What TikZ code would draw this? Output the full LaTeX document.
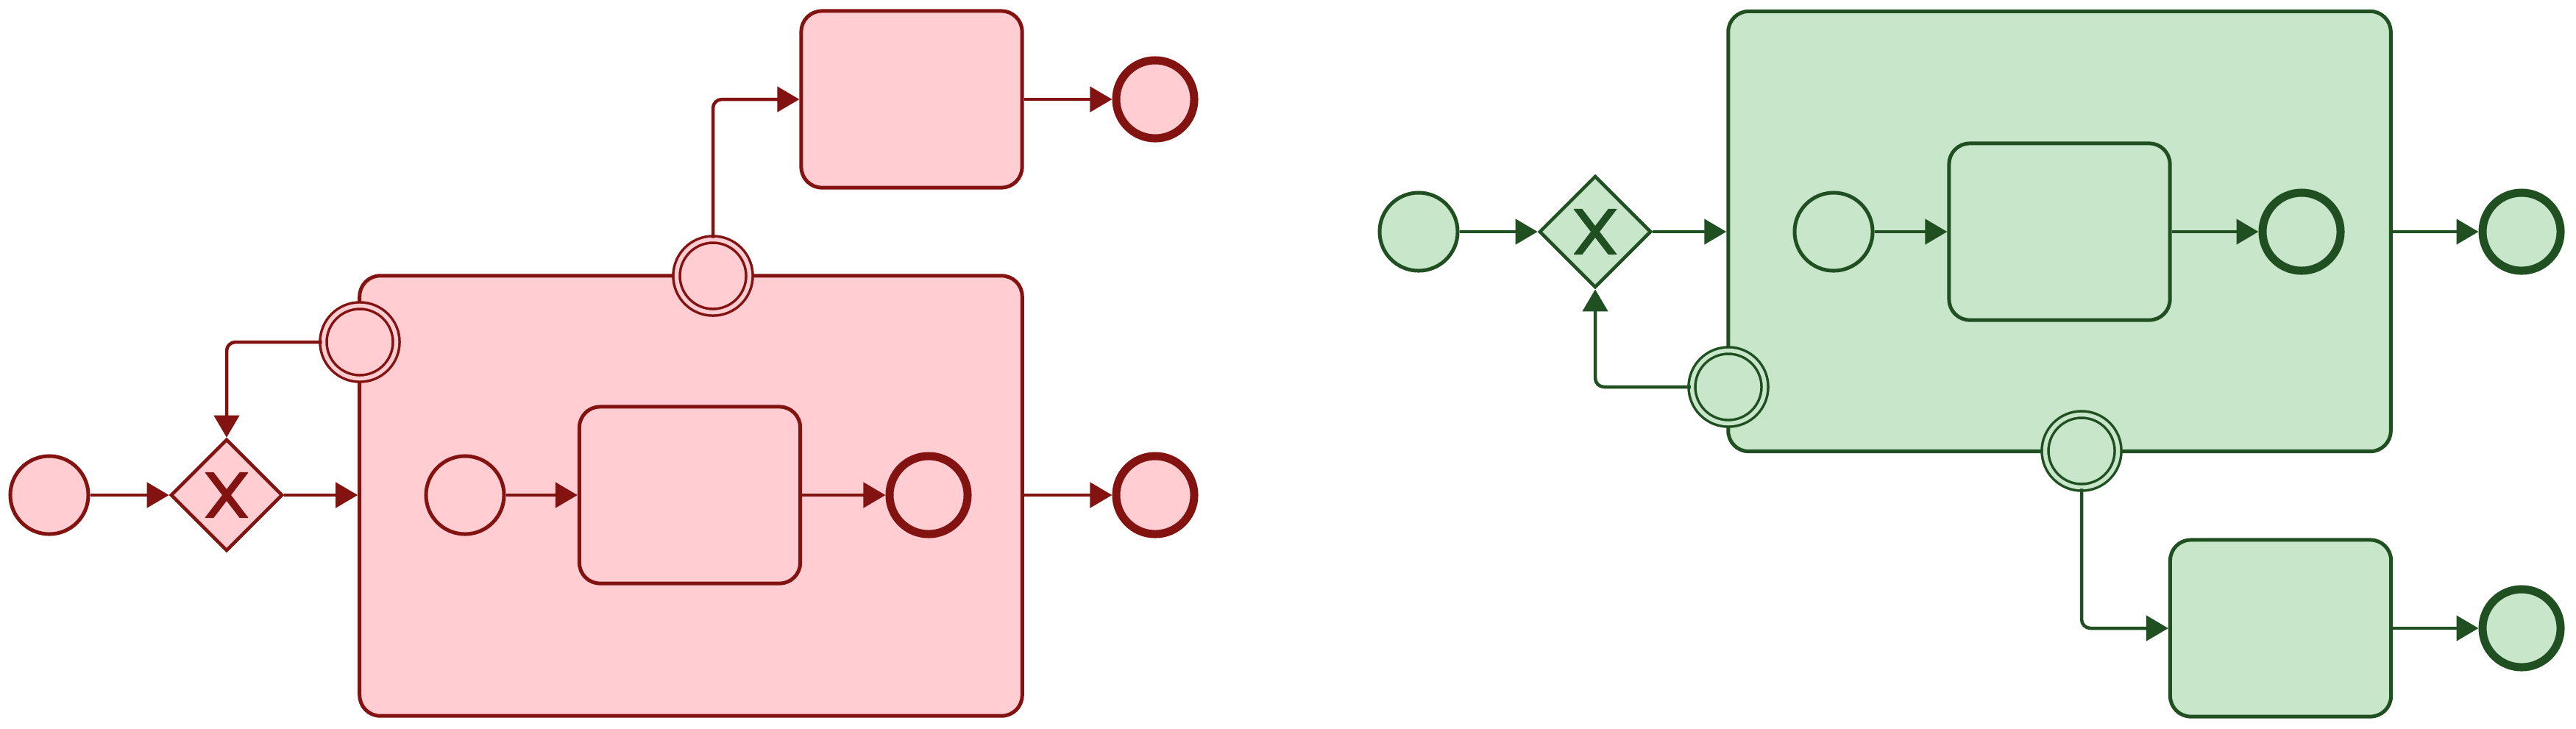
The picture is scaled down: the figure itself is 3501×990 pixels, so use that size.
\documentclass[tikz,border=0pt]{standalone}
\usetikzlibrary{arrows.meta,shapes.geometric}
\definecolor{rfill}{HTML}{FFCDD2}
\definecolor{rstroke}{HTML}{831311}
\definecolor{gfill}{HTML}{C8E6C9}
\definecolor{gstroke}{HTML}{205022}
\tikzset{
  rsty/.style={draw=rstroke, fill=rfill},
  gsty/.style={draw=gstroke, fill=gfill},
  evt/.style={circle, inner sep=0pt, line width=0.05cm, minimum size=1.06cm},
  endevt/.style={circle, inner sep=0pt, line width=0.11cm, minimum size=1.06cm},
  bevt/.style={circle, inner sep=0pt, line width=0.035cm, double distance=0.055cm, minimum size=0.99cm},
  rbevt/.style={bevt, draw=rstroke, double=rfill, fill=rfill},
  gbevt/.style={bevt, draw=gstroke, double=gfill, fill=gfill},
  taskbox/.style={rectangle, rounded corners=0.28cm, inner sep=0pt, line width=0.05cm, minimum width=3.0cm, minimum height=2.4cm},
  subbox/.style={rectangle, rounded corners=0.28cm, inner sep=0pt, line width=0.05cm, minimum width=9.0cm, minimum height=5.98cm},
  xgate/.style={diamond, inner sep=0pt, aspect=1, line width=0.045cm, minimum size=1.52cm,
    path picture={\filldraw[#1, line width=0.01cm, line join=round, shift={(path picture bounding box.center)}]
      (-28.8,-30.6) -- (-5.4,0) -- (-28.8,30.6) -- (-18,30.6) -- (0,7.1) -- (18,30.6) -- (28.8,30.6)
      -- (5.4,0) -- (28.8,-30.6) -- (18,-30.6) -- (0,-7.1) -- (-18,-30.6) -- cycle;}},
  flow/.style={line width=0.045cm, -{Triangle[length=0.3cm,width=0.34cm]}},
  elbow/.style={rounded corners=0.12cm}
}
\begin{document}
\begin{tikzpicture}[x=0.01cm, y=-0.01cm]
\useasboundingbox (0,0) rectangle (3501,990);
% ---------- red diagram ----------
\node[subbox, rsty] (subR) at (939,674) {};
\node[evt, rsty] (startR) at (67,673) {};
\node[xgate=rstroke, rsty] (gwR) at (308,673) {};
\node[evt, rsty] (inStartR) at (632,673) {};
\node[taskbox, rsty] (taskInR) at (937.5,673) {};
\node[endevt, rsty] (inEndR) at (1262,673) {};
\node[endevt, rsty] (endR) at (1570,673) {};
\node[taskbox, rsty] (taskTopR) at (1239,135) {};
\node[endevt, rsty] (endTopR) at (1570,135) {};
\node[rbevt] (bTopR) at (969,375) {};
\node[rbevt] (bLeftR) at (489,465) {};
\begin{scope}[rstroke]
\draw[flow] (startR) -- (gwR);
\draw[flow] (gwR) -- (gwR -| subR.west);
\draw[flow] (inStartR) -- (taskInR);
\draw[flow] (taskInR) -- (inEndR);
\draw[flow] (subR.east |- endR) -- (endR);
\draw[flow, elbow] (bTopR.north) |- (taskTopR.west);
\draw[flow] (taskTopR) -- (endTopR);
\draw[flow, elbow] (bLeftR.west) -| (gwR.north);
\end{scope}
% ---------- green diagram ----------
\node[subbox, gsty] (subG) at (2799,314.5) {};
\node[evt, gsty] (startG) at (1928,315) {};
\node[xgate=gstroke, gsty] (gwG) at (2168,315) {};
\node[evt, gsty] (inStartG) at (2492,315) {};
\node[taskbox, gsty] (taskInG) at (2799,315) {};
\node[endevt, gsty] (inEndG) at (3128,315) {};
\node[endevt, gsty] (endG) at (3427,315) {};
\node[taskbox, gsty] (taskBotG) at (3099.5,854) {};
\node[endevt, gsty] (endBotG) at (3427,854) {};
\node[gbevt] (bLeftG) at (2349,526) {};
\node[gbevt] (bBotG) at (2829,613) {};
\begin{scope}[gstroke]
\draw[flow] (startG) -- (gwG);
\draw[flow] (gwG) -- (gwG -| subG.west);
\draw[flow] (inStartG) -- (taskInG);
\draw[flow] (taskInG) -- (inEndG);
\draw[flow] (subG.east |- endG) -- (endG);
\draw[flow, elbow] (bLeftG.west) -| (gwG.south);
\draw[flow, elbow] (bBotG.south) |- (taskBotG.west);
\draw[flow] (taskBotG) -- (endBotG);
\end{scope}
\end{tikzpicture}
\end{document}
